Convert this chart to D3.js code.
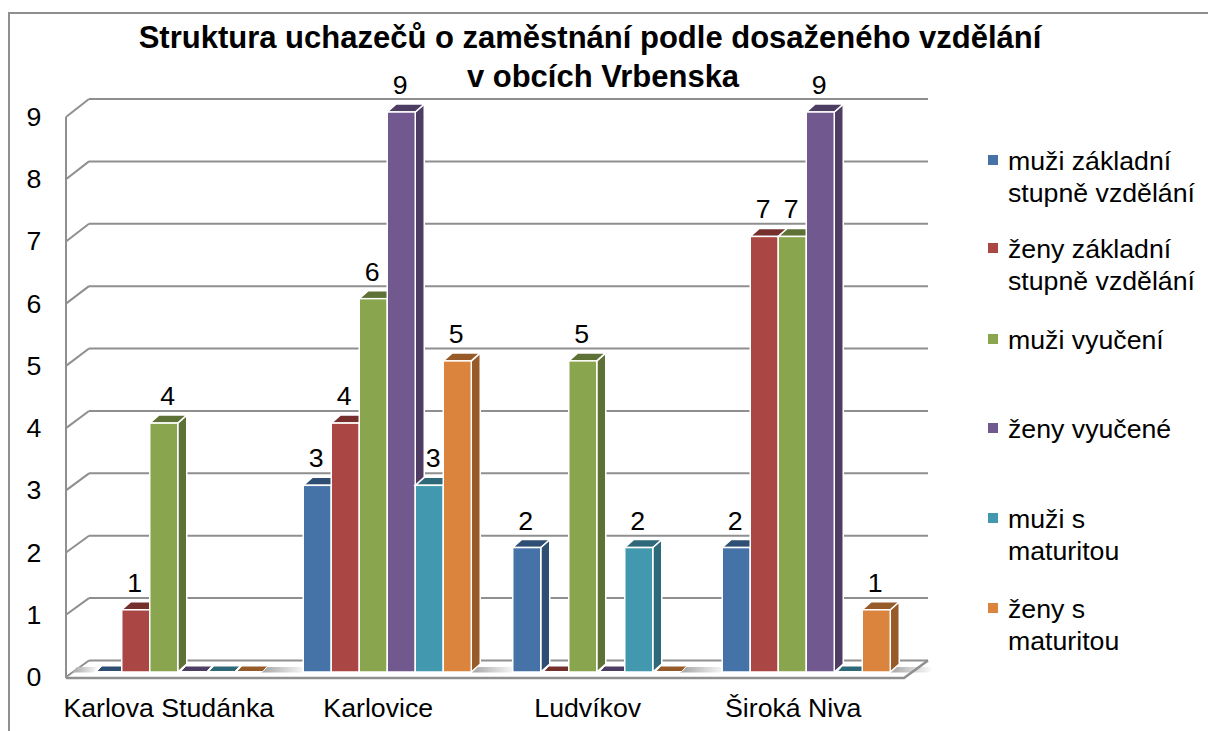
<!DOCTYPE html>
<html><head><meta charset="utf-8">
<script src="https://cdn.jsdelivr.net/npm/d3@7"></script>
<style>html,body{margin:0;padding:0;background:#fff}svg{display:block}text{font-family:"Liberation Sans",Arial,sans-serif;fill:#000}</style>
</head><body><svg id="c" width="1208" height="731"></svg>
<script>
const categories = ["Karlova Studánka","Karlovice","Ludvíkov","Široká Niva"];
const seriesNames = ["muži základní stupně vzdělání","ženy základní stupně vzdělání","muži vyučení","ženy vyučené","muži s maturitou","ženy s maturitou"];
const muziZakladni = [0,3,2,2];
const zenyZakladni = [1,4,0,7];
const muziVyuceni = [4,6,5,7];
const zenyVyucene = [0,9,0,9];
const muziMaturita = [0,3,2,0];
const zenyMaturita = [0,5,0,1];
const seriesValues = [muziZakladni,zenyZakladni,muziVyuceni,zenyVyucene,muziMaturita,zenyMaturita];
const colors = ["#4572a7","#aa4643","#89a54e","#71588f","#4198af","#db843d"];
const tickLabels = [0,1,2,3,4,5,6,7,8,9];
const titleLines = ["Struktura uchazečů o zaměstnání podle dosaženého vzdělání","v obcích Vrbenska"];
const legendLines = [["muži základní","stupně vzdělání"],["ženy základní","stupně vzdělání"],["muži vyučení"],["ženy vyučené"],["muži s","maturitou"],["ženy s","maturitou"]];
const legendY = [160,248,339,428,518,608];

const svg = d3.select("#c");
const grey = "#8f8f8f";
const fs = 26.7;
const x0 = d3.scaleBand().domain(categories).range([73,911]).paddingInner(0.198).paddingOuter(0.099);
const x1 = d3.scaleBand().domain(d3.range(6)).range([0,x0.bandwidth()]);
const yBar = d3.scaleLinear().domain([0,9]).range([672,112]);
const yFront = d3.scaleLinear().domain([0,9]).range([677,117]);
const yBack = d3.scaleLinear().domain([0,9]).range([660.5,99]);
const frontX = 66, backX = 89, backR = 928, frontR = 904;
const dx = 9, dy = 8;
const titleX = [590,603];
const catShift = [-9,-9,-9,-13];
const labelShift = (ci,si) => (ci===0&&si===2) ? 4 : (ci===1&&si===4) ? 4 : -1;

const defs = svg.append("defs");
const grad = defs.append("linearGradient").attr("id","floor");
grad.append("stop").attr("offset","0").attr("stop-color","#a4a4a4");
grad.append("stop").attr("offset","1").attr("stop-color","#ffffff");

// frame
svg.append("path").attr("d",d3.line()([[9,731],[9,13],[1208,13]])).attr("fill","none").attr("stroke",grey).attr("stroke-width",2);

// walls
const g = svg.append("g");
g.selectAll("line.grid").data(tickLabels).join("line").attr("class","grid")
  .attr("x1",backX).attr("x2",backR).attr("y1",d=>yBack(d)).attr("y2",d=>yBack(d))
  .attr("stroke",grey).attr("stroke-width",2);
g.selectAll("line.diag").data(tickLabels).join("line").attr("class","diag")
  .attr("x1",frontX).attr("x2",backX).attr("y1",d=>yFront(d)).attr("y2",d=>yBack(d))
  .attr("stroke",grey).attr("stroke-width",2);
g.append("line").attr("x1",frontX).attr("x2",frontX).attr("y1",yFront(9)).attr("y2",yFront(0)+1).attr("stroke",grey).attr("stroke-width",2);
// floor: one shaded strip in every gap between the groups
const floorEdges = categories.map(c=>x0(c)).concat([x0(categories[3])+x0.step()]);
floorEdges.forEach((px,i)=>{
  const a = i===0 ? 72 : px-42, b = i===4 ? px-3 : px;
  g.append("path").attr("d",d3.line()([[a,672.5],[b,672.5],[b+5,667],[a+5,667]])).attr("fill","url(#floor)");
});
g.append("path").attr("d",d3.line()([[frontX,yFront(0)+1],[frontR,yFront(0)+1],[backR,yBack(0)]])).attr("fill","none").attr("stroke",grey).attr("stroke-width",2.5);

// bars
const line = d3.line();
categories.forEach((c,ci)=>{
  const gc = svg.append("g");
  seriesValues.forEach((vals,si)=>{
    const v = vals[ci], x = x0(c)+x1(si), w = x1.bandwidth(), col = colors[si];
    const dark = d3.color(col).darker(1.05).formatHex();
    const bg = gc.append("g");
    if(v===0){
      bg.append("path").attr("d",line([[x+3,671.5],[x+w+1,671.5],[x+w+6,666],[x+8,666]])+"Z").attr("fill",dark).attr("stroke","#fff").attr("stroke-width",1);
      return;
    }
    const t = yBar(v), b = yBar(0);
    bg.append("path").attr("d",line([[x+w,t],[x+w+dx,t-dy],[x+w+dx,b-dy],[x+w,b]])+"Z").attr("fill",dark).attr("stroke","#fff").attr("stroke-width",1.5);
    bg.append("path").attr("d",line([[x,t],[x+dx,t-dy],[x+w+dx,t-dy],[x+w,t]])+"Z").attr("fill",dark).attr("stroke","#fff").attr("stroke-width",1.5);
    bg.append("rect").attr("x",x).attr("y",t).attr("width",w).attr("height",b-t).attr("fill",col).attr("stroke","#fff").attr("stroke-width",1.5);
  });
  seriesValues.forEach((vals,si)=>{
    const v = vals[ci];
    if(v===0) return;
    gc.append("text").attr("x",x0(c)+x1(si)+x1.bandwidth()/2+labelShift(ci,si)).attr("y",yBar(v)-18).attr("text-anchor","middle").attr("font-size",fs).text(v);
  });
});

// y labels
svg.selectAll("text.tick").data(tickLabels).join("text").attr("class","tick")
  .attr("x",34).attr("y",d=>yFront(d)+9).attr("text-anchor","middle").attr("font-size",fs).text(d=>d);
// x labels
svg.selectAll("text.cat").data(categories).join("text").attr("class","cat")
  .attr("x",(c,i)=>x0(c)+x0.bandwidth()/2+catShift[i]).attr("y",717).attr("text-anchor","middle").attr("font-size",fs).text(c=>c);
// title
svg.selectAll("text.title").data(titleLines).join("text").attr("class","title")
  .attr("x",(d,i)=>titleX[i]).attr("y",(d,i)=>48+i*39).attr("text-anchor","middle").attr("font-size",31).attr("font-weight","bold").text(d=>d);
// legend
legendLines.forEach((ls,i)=>{
  const cy = legendY[i];
  svg.append("rect").attr("x",988).attr("y",cy-5).attr("width",10).attr("height",10).attr("fill",colors[i]);
  ls.forEach((s,j)=>svg.append("text").attr("class","leg").attr("x",1008).attr("y",cy+10+j*31.5).attr("font-size",fs).text(s));
});
</script></body></html>
